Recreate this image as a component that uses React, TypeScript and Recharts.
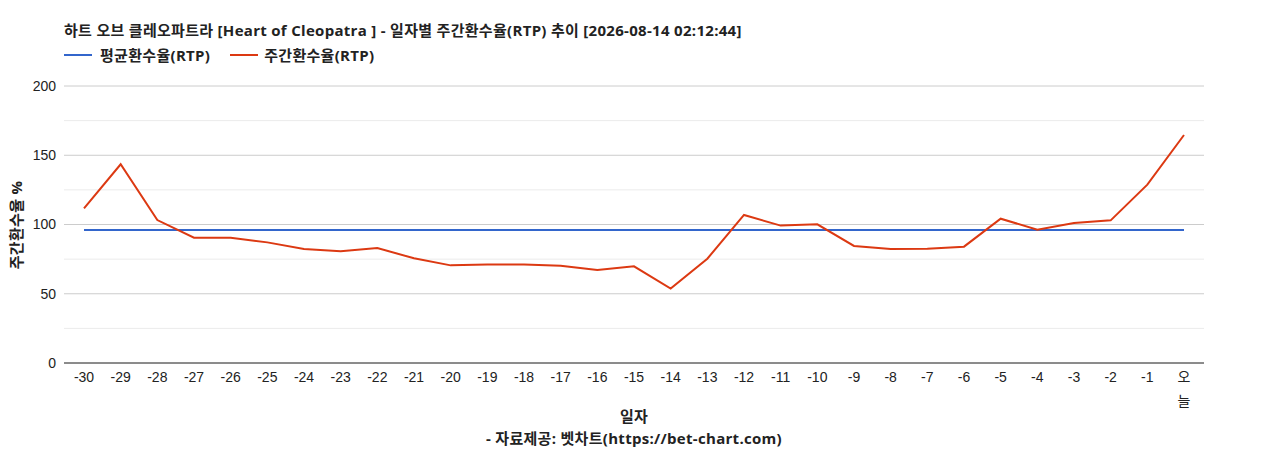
import React from "react";
import { LineChart, Line, XAxis, YAxis, CartesianGrid, ReferenceLine } from "recharts";

const days = ["-30","-29","-28","-27","-26","-25","-24","-23","-22","-21","-20","-19","-18","-17","-16","-15","-14","-13","-12","-11","-10","-9","-8","-7","-6","-5","-4","-3","-2","-1","오늘"];
const weeklyRtp = [111.7,143.5,103.2,90.5,90.5,87.1,82.3,80.6,83.0,75.6,70.5,71.2,71.2,70.3,67.1,69.8,53.7,75.3,106.9,99.2,100.1,84.5,82.3,82.5,84.0,104.2,96.3,101.1,103.0,128.8,164.6];
const avgRtp = 96.0;
const yTicks = [0, 50, 100, 150, 200];
const minorTicks = [25, 75, 125, 175];

const data = days.map((d, i) => ({ day: d, weekly: weeklyRtp[i], avg: avgRtp }));

const FONT = '"Liberation Sans", Arial, "Noto Sans CJK KR", sans-serif';
const BFONT = '"Open Sans", "Noto Sans CJK KR", sans-serif';

const XTick = (props: any) => {
  const { x, y, payload } = props;
  const v = String(payload.value);
  if (v === "오늘") {
    return (
      <g>
        <text x={x} y={y + 11} textAnchor="middle" fontSize={14} fill="#222" fontFamily={FONT}>오</text>
        <text x={x} y={y + 35} textAnchor="middle" fontSize={14} fill="#222" fontFamily={FONT}>늘</text>
      </g>
    );
  }
  return (
    <text x={x} y={y + 11} textAnchor="middle" fontSize={14} fill="#222" fontFamily={FONT}>{v}</text>
  );
};

export default function App() {
  const bold = { fontWeight: "bold" as const, color: "#222", whiteSpace: "nowrap" as const, fontFamily: BFONT, fontSize: 15, letterSpacing: "0.3px" };
  return (
    <div style={{ position: "absolute", left: 0, top: 0, width: 1268, height: 450, background: "#fff", fontFamily: FONT }}>
      <div style={{ ...bold, position: "absolute", left: 64, top: 30, transform: "translateY(-50%)", lineHeight: "18px" }}>
        하트 오브 클레오파트라 [Heart of Cleopatra ] - 일자별 주간환수율(RTP) 추이 [2026-08-14 02:12:44]
      </div>
      <div style={{ ...bold, position: "absolute", left: 64, top: 55, transform: "translateY(-50%)", lineHeight: "18px", display: "flex", alignItems: "center" }}>
        <span style={{ display: "inline-block", width: 28, height: 2, background: "#3366cc", marginRight: 8 }} />
        <span>평균환수율(RTP)</span>
        <span style={{ display: "inline-block", width: 28, height: 2, background: "#dc3912", marginLeft: 20, marginRight: 6 }} />
        <span>주간환수율(RTP)</span>
      </div>
      <div style={{ position: "absolute", left: 0, top: 0 }}>
        <LineChart width={1268} height={450} data={data} margin={{ top: 86, right: 64, bottom: 47, left: 0 }}>
          <CartesianGrid vertical={false} stroke="#cccccc" />
          {minorTicks.map((t) => (
            <ReferenceLine key={t} y={t} stroke="#ebebeb" />
          ))}
          <XAxis
            dataKey="day"
            interval={0}
            height={40}
            padding={{ left: 20, right: 20 }}
            tickLine={false}
            axisLine={{ stroke: "#333333" }}
            tick={<XTick />}
          />
          <YAxis
            domain={[0, 200]}
            ticks={yTicks}
            width={64}
            tickLine={false}
            axisLine={false}
            tick={{ fontSize: 14, fill: "#222", fontFamily: FONT }}
          />
          <Line dataKey="avg" stroke="#3366cc" strokeWidth={2} dot={false} isAnimationActive={false} />
          <Line dataKey="weekly" stroke="#dc3912" strokeWidth={2} dot={false} isAnimationActive={false} />
        </LineChart>
      </div>
      <div style={{ ...bold, position: "absolute", left: 15, top: 225, transform: "translate(-50%, -50%) rotate(-90deg)" }}>
        주간환수율 %
      </div>
      <div style={{ ...bold, position: "absolute", left: 634, top: 415, transform: "translate(-50%, -50%)" }}>
        일자
      </div>
      <div style={{ ...bold, position: "absolute", left: 634, top: 437, transform: "translate(-50%, -50%)" }}>
        - 자료제공: 벳차트(https://bet-chart.com)
      </div>
    </div>
  );
}
